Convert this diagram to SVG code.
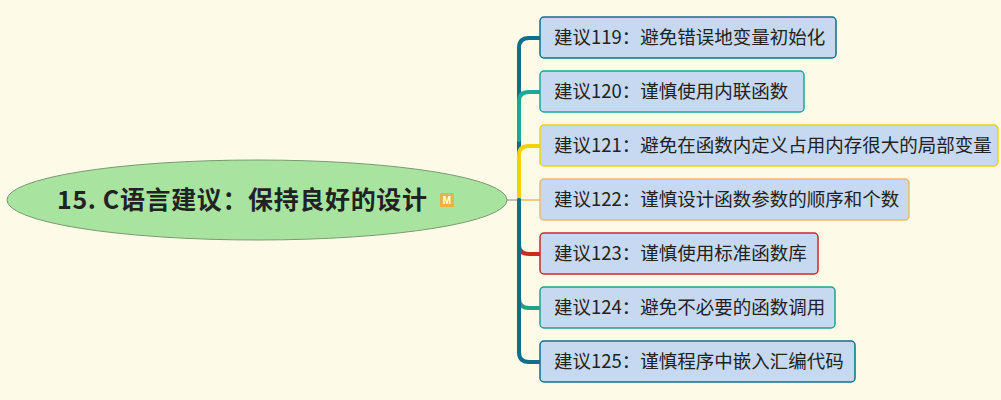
<svg xmlns="http://www.w3.org/2000/svg" width="1001" height="400" viewBox="0 0 1001 400">
<style>
.b{fill:#c6d9f0;stroke-width:1.5}
.t{font-family:"Noto Sans CJK SC",sans-serif;font-size:18.5px;fill:#222}
.c{fill:none;stroke-width:4;stroke-linecap:round}
</style>
<rect width="1001" height="400" fill="#fdfbe8"/>
<g id="connectors">
<path d="M507 200H520" stroke="#888" stroke-width="1" fill="none"/>
<path class="c" d="M519 200V48Q519 38 529 38H540" stroke="#0f6f8a"/>
<path class="c" d="M519 140V101Q519 92 529 92H540" stroke="#1aa898" stroke-width="3"/>
<path class="c" d="M519 200V155Q519 146 529 146H540" stroke="#f2d20a" stroke-width="3"/>
<path d="M519 200H540" stroke="#f0b868" stroke-width="1.5" fill="none"/>
<path class="c" d="M519 240V245Q519 254 529 254H540" stroke="#cc2a1e" stroke-width="3"/>
<path class="c" d="M519 200V298Q519 308 529 308H540" stroke="#22a08c" stroke-width="3"/>
<path class="c" d="M519 200V352Q519 362 529 362H540" stroke="#0f6f8a"/>
</g>
<g id="root">
<ellipse cx="257" cy="200" rx="250" ry="40" fill="#a8e4a0" stroke="#7a9a70" stroke-width="1"/>
<text x="57" y="209" textLength="370" lengthAdjust="spacing" style="font-family:'Noto Sans CJK SC',sans-serif;font-size:25px;font-weight:bold;fill:#222">15. C语言建议：保持良好的设计</text>
<rect x="440" y="193" width="14" height="14" fill="#e8b44a"/>
<text x="447" y="204" text-anchor="middle" style="font-family:'Liberation Sans',sans-serif;font-size:10px;font-weight:bold;fill:#fff">M</text>
</g>
<g id="n119"><rect class="b" x="540" y="17" width="296" height="41" rx="4" stroke="#0f6f8a"/><text class="t" x="554" y="44">建议119：避免错误地变量初始化</text></g>
<g id="n120"><rect class="b" x="540" y="71" width="264" height="41" rx="4" stroke="#1aa898"/><text class="t" x="554" y="98">建议120：谨慎使用内联函数</text></g>
<g id="n121"><rect class="b" x="540" y="125" width="458" height="41" rx="4" stroke="#f2d20a"/><text class="t" x="554" y="152">建议121：避免在函数内定义占用内存很大的局部变量</text></g>
<g id="n122"><rect class="b" x="540" y="179" width="369" height="41" rx="4" stroke="#f0b868"/><text class="t" x="554" y="206">建议122：谨慎设计函数参数的顺序和个数</text></g>
<g id="n123"><rect class="b" x="540" y="233" width="278" height="41" rx="4" stroke="#cc2a1e"/><text class="t" x="554" y="260">建议123：谨慎使用标准函数库</text></g>
<g id="n124"><rect class="b" x="540" y="287" width="295" height="41" rx="4" stroke="#22a08c"/><text class="t" x="554" y="314">建议124：避免不必要的函数调用</text></g>
<g id="n125"><rect class="b" x="540" y="341" width="315" height="41" rx="4" stroke="#0f6f8a"/><text class="t" x="554" y="368">建议125：谨慎程序中嵌入汇编代码</text></g>
</svg>
